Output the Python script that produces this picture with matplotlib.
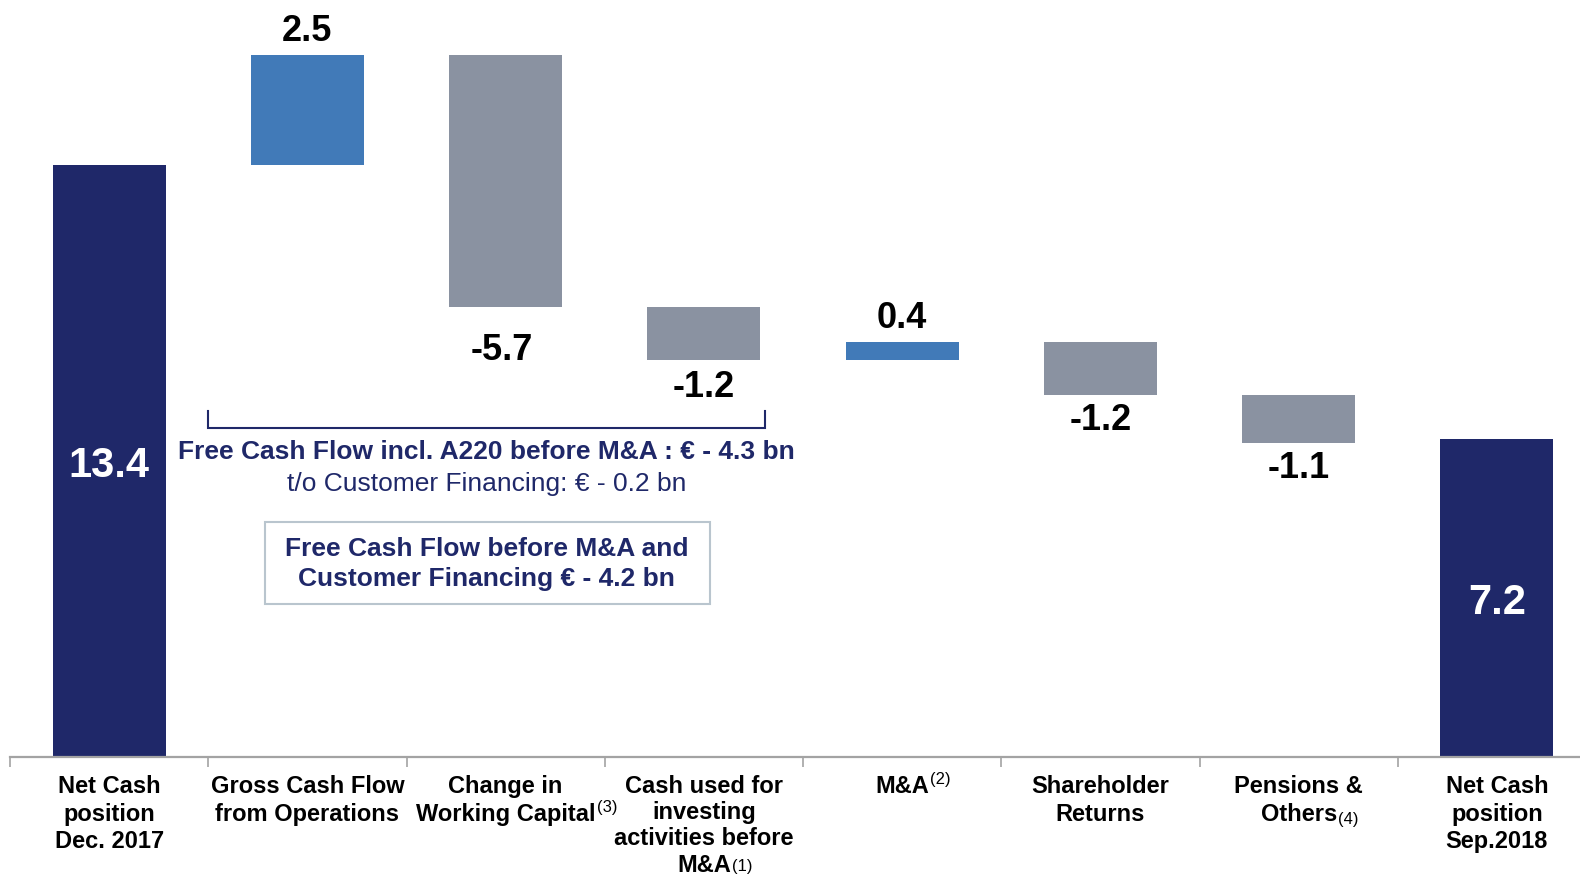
import numpy as np
import matplotlib
matplotlib.use("Agg")
import matplotlib.pyplot as plt
from matplotlib.patches import Rectangle

# colours taken from the slide
NAVY = "#1F2869"
BLUE = "#417AB8"
GREY = "#8A92A1"
AXIS_GREY = "#A3A3A3"

plt.rcParams["font.family"] = ["Liberation Sans", "DejaVu Sans"]

# data (EUR bn)
categories = [
    "Net Cash\nposition\nDec. 2017",
    "Gross Cash Flow\nfrom Operations",
    "Change in\nWorking Capital",
    "Cash used for\ninvesting\nactivities before\nM&A",
    "M&A",
    "Shareholder\nReturns",
    "Pensions &\nOthers",
    "Net Cash\nposition\nSep.2018",
]
# footnote markers after each category label: (text, "sup" / "sub" / "base")
footnotes = [None, None, ("(3)", "sup"), ("(1)", "base"), ("(2)", "sup"),
             None, ("(4)", "sub"), None]
values = [13.4, 2.5, -5.7, -1.2, 0.4, -1.2, -1.1, 7.2]
kinds = ["total", "delta", "delta", "delta", "delta", "delta", "delta", "total"]

fcf_text = "Free Cash Flow incl. A220 before M&A : € - 4.3 bn"
cf_text = "t/o Customer Financing: € - 0.2 bn"
box_text = "Free Cash Flow before M&A and\nCustomer Financing € - 4.2 bn"

# label offsets from the bar end (data units), as on the slide
label_offsets = [-0.12, 0.53, -1.0, -0.64, 0.53, -0.57, -0.57, -0.12]

# waterfall bottoms / heights
bottoms = []
heights = []
running = 0.0
for v, k in zip(values, kinds):
    if k == "total":
        bottoms.append(0.0)
        heights.append(v)
        running = v
    else:
        bottoms.append(running if v > 0 else running + v)
        heights.append(abs(v))
        running += v
bottoms = np.array(bottoms)
heights = np.array(heights)

colors = []
for v, k in zip(values, kinds):
    if k == "total":
        colors.append(NAVY)
    elif v > 0:
        colors.append(BLUE)
    else:
        colors.append(GREY)

fig = plt.figure(figsize=(15.8, 8.77), dpi=100)
ax = fig.add_axes([10 / 1580, 120 / 877, 1586 / 1580, 757 / 877])
x = np.arange(len(values))
ax.bar(x, heights, bottom=bottoms, width=0.57, color=colors, linewidth=0)
ax.set_xlim(-0.5, 7.5)
ax.set_ylim(0, 17.14)

# value labels
for i, (v, k) in enumerate(zip(values, kinds)):
    txt = f"{v:.1f}"
    if k == "total":
        ax.text(i, heights[i] / 2 + label_offsets[i], txt, ha="center", va="center",
                color="white", fontsize=30, fontweight="bold")
    elif v > 0:
        ax.text(i, bottoms[i] + heights[i] + label_offsets[i], txt, ha="center",
                va="center", color="black", fontsize=26, fontweight="bold")
    else:
        ax.text(i - (0.02 if i == 2 else 0.0), bottoms[i] + label_offsets[i], txt,
                ha="center", va="center", color="black", fontsize=26,
                fontweight="bold")

# axis styling
for s in ["top", "right", "left"]:
    ax.spines[s].set_visible(False)
ax.spines["bottom"].set_color(AXIS_GREY)
ax.spines["bottom"].set_linewidth(1.6)
ax.set_yticks([])
ax.set_xticks([])
ax.set_xticks(np.arange(-0.5, 7.5, 1.0), minor=True)
ax.tick_params(axis="x", which="minor", length=7, width=1.2, color=AXIS_GREY,
               direction="out", labelbottom=False)

# category labels, one line at a time so footnotes can hang off the last line
first_base = 26.0   # pt below the axis line
line_step = 19.8    # pt between baselines
max_base = 82.5     # keep the last baseline inside the figure
for i, label in enumerate(categories):
    lines = label.split("\n")
    step = line_step
    if len(lines) > 1:
        step = min(line_step, (max_base - first_base) / (len(lines) - 1))
    last = None
    for j, line in enumerate(lines):
        last = ax.annotate(line, xy=(i, 0), xycoords=("data", "axes fraction"),
                           xytext=(0, -(first_base + j * step)),
                           textcoords="offset points", ha="center", va="baseline",
                           fontsize=17, fontweight="bold", color="black",
                           annotation_clip=False)
    if footnotes[i] is not None:
        mark, pos = footnotes[i]
        if pos == "sup":
            ax.annotate(mark, xy=(1, 1), xycoords=last, xytext=(1, 2),
                        textcoords="offset points", ha="left", va="top",
                        fontsize=12, color="black")
        elif pos == "sub":
            ax.annotate(mark, xy=(1, 0), xycoords=last, xytext=(1, -1),
                        textcoords="offset points", ha="left", va="bottom",
                        fontsize=12, color="black")
        else:
            ax.annotate(mark, xy=(1, 0), xycoords=last, xytext=(1, 1.5),
                        textcoords="offset points", ha="left", va="bottom",
                        fontsize=12, color="black")

# bracket grouping the free cash flow items
br_left, br_right, br_top, br_bot = 0.5, 3.31, 7.83, 7.45
ax.plot([br_left, br_left, br_right, br_right], [br_top, br_bot, br_bot, br_top],
        color=NAVY, lw=1.5, solid_joinstyle="miter")

ax.text(1.905, 6.9, fcf_text, ha="center", va="center", color=NAVY,
        fontsize=19, fontweight="bold")
ax.text(1.905, 6.17, cf_text, ha="center", va="center", color=NAVY, fontsize=19)

ax.add_patch(Rectangle((0.786, 3.46), 3.03 - 0.786, 5.32 - 3.46, fill=False,
                       edgecolor="#B9C5CE", lw=1.5))
ax.text(1.905, 4.38, box_text, ha="center", va="center", color=NAVY,
        fontsize=19, fontweight="bold", linespacing=1.32)

fig.savefig("out.png", dpi=100)
